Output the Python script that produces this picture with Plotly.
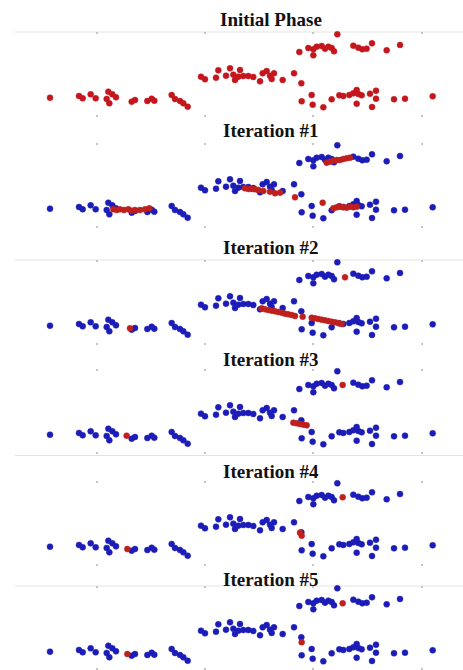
import plotly.graph_objects as go

# ---------------- data ----------------
titles = ["Initial Phase", "Iteration #1", "Iteration #2",
          "Iteration #3", "Iteration #4", "Iteration #5"]

tick_x = [2.90, 6.15, 9.40, 12.65]

# data points (same in every panel)
point_x = [1.50, 2.37, 2.48, 2.72, 2.87, 3.25, 3.37, 3.48, 3.20, 3.28,
           3.95, 4.05, 4.42, 4.55, 4.63, 5.15, 5.25, 5.40, 5.50, 5.63,
           6.03, 6.15, 6.48, 6.55, 6.78, 6.90, 7.00, 7.05, 7.20, 7.15,
           7.30, 7.45, 7.60, 7.80, 7.88, 8.00, 8.10, 8.22, 8.15, 8.48,
           8.82, 9.04,
           10.12, 11.98, 8.98, 9.25, 9.40, 9.50, 9.65, 9.75, 9.85, 9.95,
           10.02, 9.40, 10.60, 10.75, 10.87, 11.00, 11.16, 11.60, 12.00,
           9.05, 9.35, 9.38, 9.70, 9.95, 10.18, 10.30, 10.48, 10.60, 10.70,
           10.75, 10.85, 10.70, 11.10, 11.28, 11.28, 11.16, 11.82, 12.15,
           12.98]
point_y = [0.58, 0.63, 0.56, 0.68, 0.56, 0.76, 0.68, 0.59, 0.54, 0.41,
           0.46, 0.51, 0.48, 0.55, 0.49, 0.66, 0.54, 0.48, 0.41, 0.31,
           1.21, 1.13, 1.18, 1.40, 1.24, 1.46, 1.27, 1.11, 1.41, 1.21,
           1.23, 1.23, 1.20, 1.07, 1.31, 1.38, 1.24, 1.31, 1.14, 1.11,
           1.31, 1.01,
           2.48, 2.56, 1.95, 2.07, 2.03, 2.11, 2.13, 2.05, 2.11, 2.07,
           1.97, 1.85, 2.14, 2.08, 2.03, 2.05, 2.21, 2.00, 2.16,
           0.47, 0.66, 0.37, 0.29, 0.53, 0.65, 0.63, 0.66, 0.71, 0.81,
           0.69, 0.65, 0.40, 0.70, 0.79, 0.55, 0.30, 0.53, 0.55,
           0.62]

# centroid positions (red) traced in each iteration
iter1_x = [3.40, 3.50, 3.60, 3.72, 3.85, 3.95, 4.05, 4.20, 4.35, 4.48,
           7.35, 7.45, 7.55, 7.65, 7.75, 7.90, 8.10, 8.25, 8.40, 8.85,
           9.80, 9.90, 10.00, 10.10, 10.20, 10.30, 10.40, 10.50,
           9.68, 10.00, 10.10, 10.20, 10.30, 10.40, 10.50, 10.60, 10.70]
iter1_y = [0.56, 0.54, 0.56, 0.54, 0.56, 0.52, 0.54, 0.54, 0.56, 0.59,
           1.19, 1.17, 1.17, 1.16, 1.14, 1.11, 1.09, 1.04, 1.06, 0.92,
           1.96, 1.99, 2.02, 2.04, 2.04, 2.07, 2.09, 2.11,
           0.76, 0.59, 0.62, 0.64, 0.62, 0.61, 0.64, 0.62, 0.64]

iter2_x = [10.35, 3.90,
           7.85, 7.95, 8.05, 8.15, 8.25, 8.35, 8.45, 8.55, 8.65, 8.75,
           8.85, 9.08, 9.35, 9.45, 9.55, 9.65, 9.75, 9.85, 9.95, 10.05,
           10.15, 10.25]
iter2_y = [2.03, 0.50,
           1.10, 1.07, 1.05, 1.03, 1.01, 0.99, 0.97, 0.94, 0.92, 0.90,
           0.87, 0.85, 0.82, 0.80, 0.78, 0.76, 0.74, 0.72, 0.70, 0.68,
           0.66, 0.63]

iter3_x = [10.28, 3.80, 8.80, 8.90, 9.00, 9.10, 9.20]
iter3_y = [2.07, 0.55, 0.94, 0.92, 0.90, 0.88, 0.86]

iter4_x = [10.28, 3.82, 9.00, 9.05]
iter4_y = [2.06, 0.51, 1.00, 0.91]

iter5_x = [10.28, 3.82, 9.05]
iter5_y = [2.03, 0.51, 0.86]

centroids = [None, (iter1_x, iter1_y), (iter2_x, iter2_y),
             (iter3_x, iter3_y), (iter4_x, iter4_y), (iter5_x, iter5_y)]

# ---------------- layout / styling ----------------
W, H = 463, 670
panel_top = [32, 143, 260, 369, 481, 586]     # pixel top of each panel
panel_h = 85
title_y = [19, 131, 247.5, 359, 471, 579]
title_x = 271
line_y = [32, 260, 455.5, 586]
unit_per_px = 0.03
x_range = [0, W * unit_per_px]
y_top = panel_h * unit_per_px

RED = "#c4161c"
RED_C = "#bf201d"
BLUE = "#1c1cb8"

fig = go.Figure()
layout = dict(
    width=W, height=H,
    margin=dict(l=0, r=0, t=0, b=0),
    paper_bgcolor="white", plot_bgcolor="white",
    showlegend=False,
    shapes=[], annotations=[],
)

for i in range(6):
    n = "" if i == 0 else str(i + 1)
    xa, ya = "x" + n, "y" + n
    top = panel_top[i]
    bot = top + panel_h
    lo = 0.0
    if bot > H:
        lo = (bot - H) * unit_per_px
        bot = H
    dom = [1 - bot / H, 1 - top / H]

    if i == 0:
        fig.add_trace(go.Scatter(
            x=point_x, y=point_y, mode="markers", xaxis=xa, yaxis=ya,
            marker=dict(size=6, color=RED,
                        line=dict(width=1, color="rgba(196,22,28,0.45)")),
            cliponaxis=False, hoverinfo="skip"))
    else:
        fig.add_trace(go.Scatter(
            x=point_x, y=point_y, mode="markers", xaxis=xa, yaxis=ya,
            marker=dict(size=6, color=BLUE,
                        line=dict(width=1, color="rgba(28,28,184,0.45)")),
            cliponaxis=False, hoverinfo="skip"))
        cx, cy = centroids[i]
        fig.add_trace(go.Scatter(
            x=cx, y=cy, mode="markers", xaxis=xa, yaxis=ya,
            marker=dict(size=6, color=RED_C,
                        line=dict(width=1, color="rgba(191,32,29,0.45)")),
            cliponaxis=False, hoverinfo="skip"))

    layout["xaxis" + n] = dict(
        domain=[0, 1], range=x_range, anchor=ya,
        showgrid=False, zeroline=False, showticklabels=False,
        tickvals=tick_x, ticks="inside", ticklen=2, tickwidth=1.5,
        tickcolor="#c4c4c4", showline=True, linecolor="rgba(0,0,0,0)",
        mirror="ticks", fixedrange=True)
    layout["yaxis" + n] = dict(
        domain=dom, range=[lo, y_top], anchor=xa,
        showgrid=False, zeroline=False, showticklabels=False,
        showline=False, ticks="", fixedrange=True)

    layout["annotations"].append(dict(
        text="<b>" + titles[i] + "</b>", xref="paper", yref="paper",
        x=title_x / W, y=1 - title_y[i] / H, xanchor="center",
        yanchor="middle", showarrow=False,
        font=dict(family="Liberation Serif, Times New Roman, serif",
                  size=19, color="#111111")))

for ly in line_y:
    layout["shapes"].append(dict(
        type="line", xref="paper", yref="paper",
        x0=15 / W, x1=1, y0=1 - ly / H, y1=1 - ly / H,
        line=dict(color="#e3e3e3", width=1), layer="below"))

fig.update_layout(**layout)
fig.write_html(
    "out.html",
    config={"displayModeBar": False},
    post_script="document.body.style.margin='0';"
                "document.body.style.overflow='hidden';"
                "window.dispatchEvent(new Event('resize'));")
